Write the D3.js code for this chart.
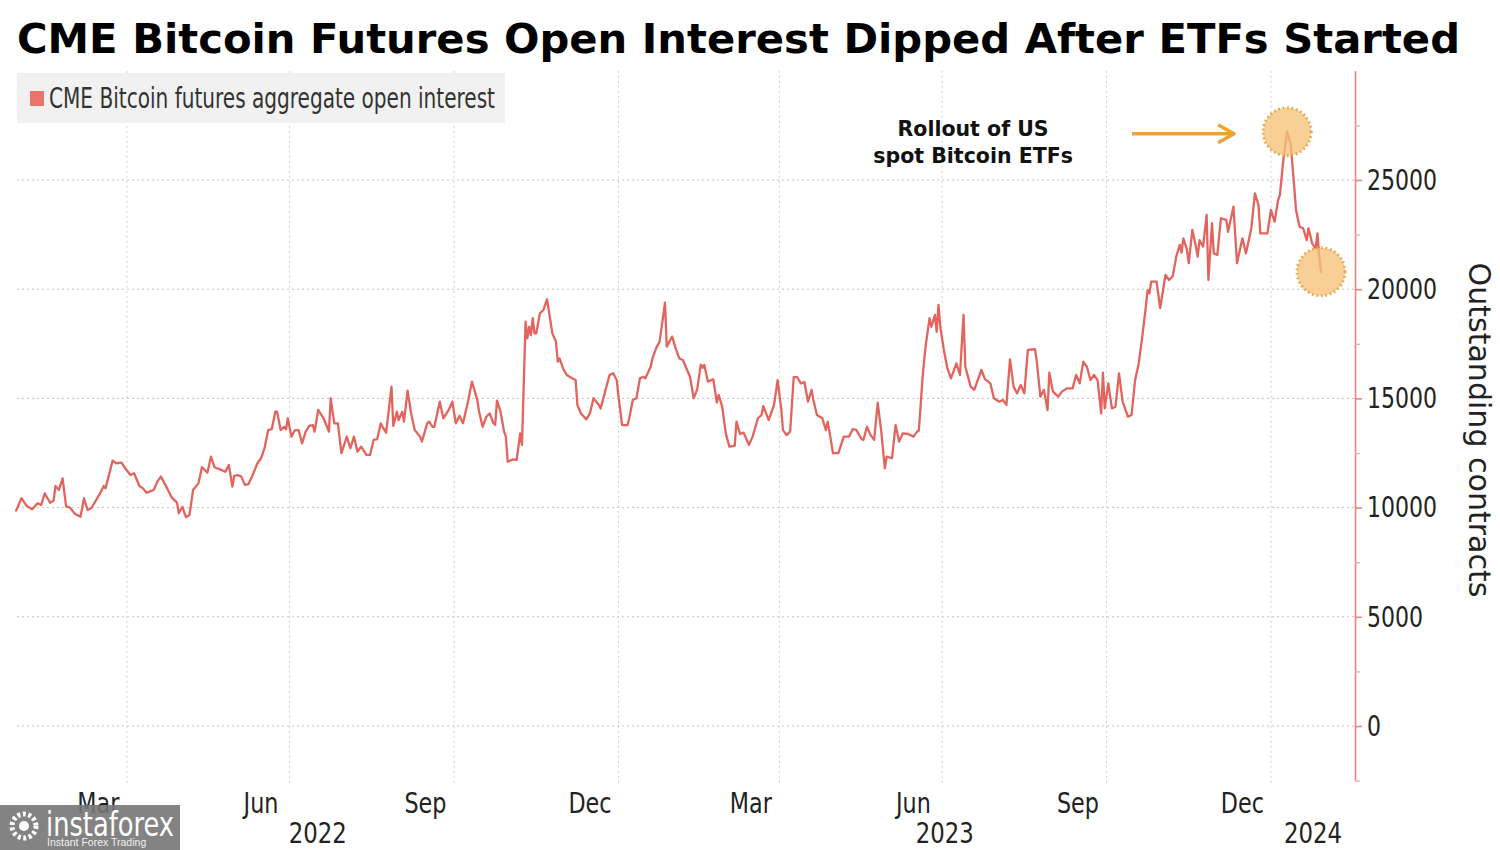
<!DOCTYPE html>
<html><head><meta charset="utf-8">
<script src="https://cdn.jsdelivr.net/npm/d3@7"></script>
<style>
body{margin:0;background:#fff;}
svg{display:block;}
</style></head><body>
<svg id="chart" width="1500" height="850"></svg>
<script>
// ---------------- DATA ----------------
const titleText = "CME Bitcoin Futures Open Interest Dipped After ETFs Started";
const seriesName = "CME Bitcoin futures aggregate open interest";
const axisTitle = "Outstanding contracts";
const annotationLines = ["Rollout of US", "spot Bitcoin ETFs"];
const yTickValues = [0, 5000, 10000, 15000, 20000, 25000];
const yMinorTickValues = [-2500, 2500, 7500, 12500, 17500, 22500, 27500];
const monthLabelDates = ["2022-03-16","2022-06-15","2022-09-15","2022-12-16","2023-03-16","2023-06-15","2023-09-15","2023-12-16"];
const yearLabels = ["2022", "2023", "2024"];
const highlightDates = ["2024-01-10", "2024-01-29"];
const watermarkLines = ["instaforex", "Instant Forex Trading"];

const openInterest = [
["2022-01-29",9860],["2022-02-01",10430],["2022-02-04",10070],["2022-02-07",9920],["2022-02-10",10200],
["2022-02-12",10120],["2022-02-14",10650],["2022-02-17",10220],["2022-02-19",10320],["2022-02-20",10990],
["2022-02-22",10810],["2022-02-24",11340],["2022-02-26",10040],["2022-02-28",10010],["2022-03-03",9710],
["2022-03-06",9580],["2022-03-08",10430],["2022-03-10",9890],["2022-03-12",9970],["2022-03-17",10650],
["2022-03-19",10990],["2022-03-20",10880],["2022-03-24",12150],["2022-03-26",12030],["2022-03-29",12060],
["2022-03-31",11800],["2022-04-03",11490],["2022-04-05",11570],["2022-04-08",10990],["2022-04-10",10880],
["2022-04-12",10680],["2022-04-16",10810],["2022-04-18",11190],["2022-04-20",11420],["2022-04-23",10960],
["2022-04-26",10470],["2022-04-29",10230],["2022-04-30",9740],["2022-05-02",10040],["2022-05-04",9560],
["2022-05-06",9660],["2022-05-08",10810],["2022-05-11",11110],["2022-05-13",11850],["2022-05-16",11600],
["2022-05-18",12330],["2022-05-20",11850],["2022-05-23",11750],["2022-05-26",11640],["2022-05-28",11950],
["2022-05-30",10960],["2022-05-31",11450],["2022-06-02",11490],["2022-06-04",11420],["2022-06-06",11040],
["2022-06-08",11080],["2022-06-10",11420],["2022-06-13",12030],["2022-06-15",12260],["2022-06-17",12720],
["2022-06-19",13550],["2022-06-21",13590],["2022-06-23",14390],["2022-06-24",14390],["2022-06-26",13550],
["2022-06-28",13700],["2022-06-29",13590],["2022-06-30",14090],["2022-07-02",13250],["2022-07-04",13550],
["2022-07-06",13550],["2022-07-08",12940],["2022-07-10",13480],["2022-07-12",13740],["2022-07-14",13780],
["2022-07-15",13480],["2022-07-17",14470],["2022-07-20",14090],["2022-07-23",13480],["2022-07-24",15000],
["2022-07-26",13860],["2022-07-28",13860],["2022-07-30",12490],["2022-08-02",13250],["2022-08-04",12720],
["2022-08-06",13250],["2022-08-08",12560],["2022-08-10",12790],["2022-08-13",12410],["2022-08-15",12410],
["2022-08-17",13100],["2022-08-19",13130],["2022-08-21",13860],["2022-08-22",13700],["2022-08-24",13430],
["2022-08-27",15540],["2022-08-28",13740],["2022-08-30",14390],["2022-08-31",14010],["2022-09-02",14390],
["2022-09-03",13940],["2022-09-05",15350],["2022-09-07",14310],["2022-09-09",13550],["2022-09-12",13250],
["2022-09-13",13020],["2022-09-16",13860],["2022-09-17",13940],["2022-09-19",13700],["2022-09-20",13700],
["2022-09-23",14850],["2022-09-25",14090],["2022-09-28",14470],["2022-09-30",14850],["2022-10-02",13860],
["2022-10-04",14200],["2022-10-06",13860],["2022-10-09",14930],["2022-10-11",15770],["2022-10-14",14930],
["2022-10-15",14390],["2022-10-17",13700],["2022-10-19",14160],["2022-10-21",14310],["2022-10-23",13860],
["2022-10-24",13780],["2022-10-25",14900],["2022-10-27",14390],["2022-10-29",13480],["2022-10-30",13250],
["2022-10-31",12100],["2022-11-03",12210],["2022-11-05",12180],["2022-11-07",13400],["2022-11-08",12870],
["2022-11-10",18510],["2022-11-11",17750],["2022-11-12",18280],["2022-11-13",17900],["2022-11-14",18670],
["2022-11-15",17980],["2022-11-16",17980],["2022-11-18",18890],["2022-11-20",19050],["2022-11-22",19540],
["2022-11-25",17980],["2022-11-27",17600],["2022-11-28",16680],["2022-11-29",16830],["2022-12-01",16370],
["2022-12-03",16070],["2022-12-06",15920],["2022-12-08",15840],["2022-12-09",14700],["2022-12-11",14310],
["2022-12-14",14040],["2022-12-16",14310],["2022-12-18",15010],["2022-12-21",14700],["2022-12-22",14540],
["2022-12-24",15160],["2022-12-27",16070],["2022-12-29",16150],["2022-12-31",15840],["2023-01-01",15080],
["2023-01-03",13780],["2023-01-06",13780],["2023-01-07",14090],["2023-01-09",14930],["2023-01-11",15010],
["2023-01-13",15920],["2023-01-15",15990],["2023-01-16",15920],["2023-01-19",16450],["2023-01-20",16830],
["2023-01-22",17290],["2023-01-24",17600],["2023-01-27",19380],["2023-01-28",17370],["2023-01-31",17830],
["2023-02-02",17290],["2023-02-04",16830],["2023-02-06",16760],["2023-02-10",15990],["2023-02-12",15010],
["2023-02-14",15400],["2023-02-16",16550],["2023-02-17",16400],["2023-02-18",16530],["2023-02-20",15770],
["2023-02-23",15880],["2023-02-25",14810],["2023-02-26",15160],["2023-02-28",14620],["2023-03-02",13400],
["2023-03-04",12790],["2023-03-07",12830],["2023-03-08",13940],["2023-03-10",13370],["2023-03-12",13430],
["2023-03-15",12870],["2023-03-17",13250],["2023-03-20",14090],["2023-03-22",14240],["2023-03-23",14650],
["2023-03-26",14010],["2023-03-29",14700],["2023-03-31",15840],["2023-04-02",14540],["2023-04-03",13550],
["2023-04-05",13320],["2023-04-07",13480],["2023-04-09",15970],["2023-04-11",15970],["2023-04-13",15690],
["2023-04-15",15750],["2023-04-17",14850],["2023-04-19",15390],["2023-04-20",14930],["2023-04-22",14240],
["2023-04-25",14090],["2023-04-27",13550],["2023-04-28",13940],["2023-04-29",13480],["2023-05-01",12490],
["2023-05-04",12490],["2023-05-07",13250],["2023-05-10",13250],["2023-05-12",13590],["2023-05-14",13560],
["2023-05-17",13130],["2023-05-18",13100],["2023-05-20",13700],["2023-05-22",13320],["2023-05-24",13100],
["2023-05-26",14800],["2023-05-28",13480],["2023-05-30",11800],["2023-05-31",12330],["2023-06-03",12260],
["2023-06-05",13780],["2023-06-07",13020],["2023-06-09",13400],["2023-06-12",13370],["2023-06-15",13250],
["2023-06-17",13480],["2023-06-18",13520],["2023-06-20",15840],["2023-06-21",16760],["2023-06-22",17520],
["2023-06-24",18670],["2023-06-25",18280],["2023-06-27",18820],["2023-06-28",18050],["2023-06-29",19280],
["2023-06-30",18280],["2023-07-02",17220],["2023-07-04",16370],["2023-07-06",15920],["2023-07-09",16600],
["2023-07-11",16070],["2023-07-13",18820],["2023-07-14",16450],["2023-07-17",15540],["2023-07-19",15390],
["2023-07-23",16300],["2023-07-25",15880],["2023-07-28",15690],["2023-07-30",15010],["2023-08-02",14850],
["2023-08-04",14930],["2023-08-06",14700],["2023-08-08",16790],["2023-08-10",15540],["2023-08-12",15230],
["2023-08-14",15610],["2023-08-16",15230],["2023-08-18",17220],["2023-08-22",17250],["2023-08-23",16680],
["2023-08-25",15080],["2023-08-27",15390],["2023-08-29",14470],["2023-08-30",16180],["2023-09-01",15310],
["2023-09-04",15080],["2023-09-06",15310],["2023-09-09",15460],["2023-09-12",15460],["2023-09-14",16070],
["2023-09-16",15690],["2023-09-18",16680],["2023-09-20",16450],["2023-09-22",15840],["2023-09-24",16070],
["2023-09-26",15840],["2023-09-28",14310],["2023-09-29",16180],["2023-09-30",14540],["2023-10-02",15690],
["2023-10-04",14540],["2023-10-06",14620],["2023-10-08",16150],["2023-10-10",14850],["2023-10-13",14160],
["2023-10-15",14240],["2023-10-17",15840],["2023-10-19",16600],["2023-10-21",17830],["2023-10-23",19200],
["2023-10-24",19960],["2023-10-25",19810],["2023-10-26",20350],["2023-10-29",20350],["2023-10-31",19130],
["2023-11-03",20650],["2023-11-05",20420],["2023-11-07",20580],["2023-11-09",21490],["2023-11-11",22030],
["2023-11-12",21670],["2023-11-13",22330],["2023-11-15",21800],["2023-11-16",21190],["2023-11-18",22710],
["2023-11-20",21950],["2023-11-21",21490],["2023-11-22",22250],["2023-11-24",21950],["2023-11-26",23400],
["2023-11-27",20420],["2023-11-29",23020],["2023-11-30",21640],["2023-12-02",21570],["2023-12-04",23250],
["2023-12-07",23170],["2023-12-08",22630],["2023-12-11",23780],["2023-12-13",21190],["2023-12-16",22330],
["2023-12-18",21640],["2023-12-21",22790],["2023-12-23",24390],["2023-12-25",23860],["2023-12-26",22560],
["2023-12-30",22560],["2024-01-01",23630],["2024-01-03",23090],["2024-01-05",24090],["2024-01-06",24320],
["2024-01-08",25990],["2024-01-10",27210],["2024-01-12",26680],["2024-01-14",24700],["2024-01-15",23630],
["2024-01-17",22860],["2024-01-19",22790],["2024-01-21",22250],["2024-01-22",22790],["2024-01-24",22100],
["2024-01-26",21870],["2024-01-27",22560],["2024-01-28",21490],["2024-01-29",20800]
];

// ---------------- CHART ----------------
const parse = d3.timeParse("%Y-%m-%d");
const data = openInterest.map(([d, v]) => ({date: parse(d), value: v}));

const NARROW = "'Liberation Sans Narrow','Arial Narrow','DejaVu Sans Condensed',sans-serif";
const BOLD = "'DejaVu Sans','Verdana',sans-serif";
const lineColor = "#e3645d";
const accent = "#eba23a";

// squeeze a text selection horizontally so that the sample string gets the target width
function condense(sel, sampleWidth, targetWidth) {
  const f = targetWidth / sampleWidth;
  sel.each(function() {
    const w = this.getComputedTextLength();
    this.setAttribute("textLength", w * f);
    this.setAttribute("lengthAdjust", "spacingAndGlyphs");
  });
}
function measure(sel) { return sel.node().getComputedTextLength(); }

const svg = d3.select("#chart");
const xStart = new Date(2022, 0, 29, 12), xEnd = new Date(2024, 1, 17);
const x = d3.scaleTime().domain([xStart, xEnd]).range([17, 1355]);
const y = d3.scaleLinear().domain([-2500, 30000]).range([780.6, 70.8]);

// title
svg.append("text").attr("x", 17).attr("y", 53)
  .attr("font-family", BOLD).attr("font-weight", "bold").attr("font-size", 41.5)
  .attr("textLength", 1443).attr("lengthAdjust", "spacingAndGlyphs")
  .attr("fill", "#000").text(titleText);

// legend box
const leg = svg.append("g");
leg.append("rect").attr("x", 17).attr("y", 73).attr("width", 488).attr("height", 50).attr("fill", "#f1f1f1");

// gridlines
const grid = svg.append("g");
grid.selectAll("line.h").data(yTickValues).join("line")
  .attr("x1", 17).attr("x2", 1355).attr("y1", d => y(d)).attr("y2", d => y(d))
  .attr("stroke", "#c4c4c4").attr("stroke-width", 1).attr("stroke-dasharray", "2,3");
const qTicks = d3.timeMonth.every(3).range(xStart, xEnd);
grid.selectAll("line.v").data(qTicks).join("line")
  .attr("x1", d => x(d)).attr("x2", d => x(d)).attr("y1", y(30000)).attr("y2", 786)
  .attr("stroke", "#cfcfcf").attr("stroke-width", 1).attr("stroke-dasharray", "2,3");

leg.raise();
leg.append("rect").attr("x", 30).attr("y", 91).attr("width", 14).attr("height", 15).attr("fill", "#e8746d");
leg.append("text").attr("x", 49).attr("y", 108)
  .attr("font-family", NARROW).attr("font-size", 27.5).attr("fill", "#333")
  .attr("textLength", 446).attr("lengthAdjust", "spacingAndGlyphs").text(seriesName);

// line
svg.append("path").datum(data)
  .attr("fill", "none").attr("stroke", lineColor).attr("stroke-width", 2.3)
  .attr("stroke-linejoin", "round").attr("stroke-linecap", "round")
  .attr("d", d3.line().x(d => x(d.date)).y(d => y(d.value)));

// right axis
const axisColor = "#e88580";
const yAxis = svg.append("g").attr("transform", "translate(1355,0)")
  .call(d3.axisRight(y).tickValues(yTickValues).tickSize(7).tickSizeOuter(0).tickPadding(5).tickFormat(d3.format("d")));
yAxis.select(".domain").attr("stroke", axisColor).attr("stroke-width", 1.6);
yAxis.selectAll(".tick line").attr("stroke", axisColor).attr("stroke-width", 1.6);
const yLabels = yAxis.selectAll(".tick text").attr("font-family", NARROW).attr("font-size", 29).attr("fill", "#222");
condense(yLabels, measure(yLabels.filter(d => d === 25000)), 70);
const yMinor = svg.append("g").attr("transform", "translate(1355,0)")
  .call(d3.axisRight(y).tickValues(yMinorTickValues).tickSize(5).tickSizeOuter(0).tickFormat(""));
yMinor.select(".domain").remove();
yMinor.selectAll(".tick line").attr("stroke", "#eeb0ad").attr("stroke-width", 1.4);

svg.append("text")
  .attr("transform", "translate(1469,430) rotate(90)")
  .attr("text-anchor", "middle")
  .attr("font-family", NARROW).attr("font-size", 31).attr("fill", "#222")
  .attr("textLength", 335).attr("lengthAdjust", "spacingAndGlyphs")
  .text(axisTitle);

// x labels
const fmtMonth = d3.timeFormat("%b");
const monthText = svg.selectAll("text.month").data(monthLabelDates.map(parse)).join("text")
  .attr("class", "month").attr("x", d => x(d)).attr("y", 813)
  .attr("text-anchor", "middle").attr("font-family", NARROW).attr("font-size", 29).attr("fill", "#222")
  .text(d => fmtMonth(d));
condense(monthText, measure(monthText), 42);
const yearBounds = [xStart, new Date(2023, 0, 1), new Date(2024, 0, 1), xEnd];
const yearText = svg.selectAll("text.year").data(yearLabels).join("text")
  .attr("class", "year")
  .attr("x", (d, i) => (x(yearBounds[i]) + x(yearBounds[i + 1])) / 2).attr("y", 843)
  .attr("text-anchor", "middle").attr("font-family", NARROW).attr("font-size", 28).attr("fill", "#222")
  .text(d => d);
condense(yearText, measure(yearText), 58);

// highlight circles
const hl = highlightDates.map(s => data.find(d => +d.date === +parse(s)));
svg.selectAll("circle.hl").data(hl).join("circle")
  .attr("cx", d => x(d.date)).attr("cy", d => y(d.value)).attr("r", 24)
  .attr("fill", "#f6c27a").attr("fill-opacity", 0.78)
  .attr("stroke", "#e9a23c").attr("stroke-width", 3).attr("stroke-dasharray", "1.5,3");

// annotation arrow + text
const peak = hl[0];
const px = x(peak.date), py = y(peak.value);
const ay = py + 2;
svg.append("line").attr("x1", px - 155).attr("x2", px - 53).attr("y1", ay).attr("y2", ay)
  .attr("stroke", accent).attr("stroke-width", 3.5);
svg.append("polyline")
  .attr("points", `${px - 69},${ay - 9} ${px - 53},${ay} ${px - 69},${ay + 9}`)
  .attr("fill", "none").attr("stroke", accent).attr("stroke-width", 3.5).attr("stroke-linejoin", "round");
svg.selectAll("text.ann").data(annotationLines).join("text")
  .attr("x", px - 314).attr("y", (d, i) => 136 + i * 27)
  .attr("text-anchor", "middle").attr("font-family", BOLD).attr("font-weight", "bold")
  .attr("font-size", 20.5).attr("fill", "#111").text(d => d);

// watermark
const wm = svg.append("g");
wm.append("rect").attr("x", 0).attr("y", 805).attr("width", 180).attr("height", 45)
  .attr("fill", "#767676").attr("fill-opacity", 0.9);
wm.append("circle").attr("cx", 24).attr("cy", 826).attr("r", 12)
  .attr("fill", "none").attr("stroke", "#fff").attr("stroke-width", 5).attr("stroke-dasharray", "3,2.5");
wm.append("circle").attr("cx", 24).attr("cy", 826).attr("r", 5).attr("fill", "#fff");
wm.append("text").attr("x", 46).attr("y", 836).attr("font-family", NARROW)
  .attr("font-size", 33).attr("fill", "#fff").attr("textLength", 128).attr("lengthAdjust", "spacingAndGlyphs")
  .text(watermarkLines[0]);
wm.append("text").attr("x", 47).attr("y", 846).attr("font-family", "'Liberation Sans',sans-serif")
  .attr("font-size", 10.5).attr("fill", "#f0f0f0").text(watermarkLines[1]);
</script>
</body></html>
